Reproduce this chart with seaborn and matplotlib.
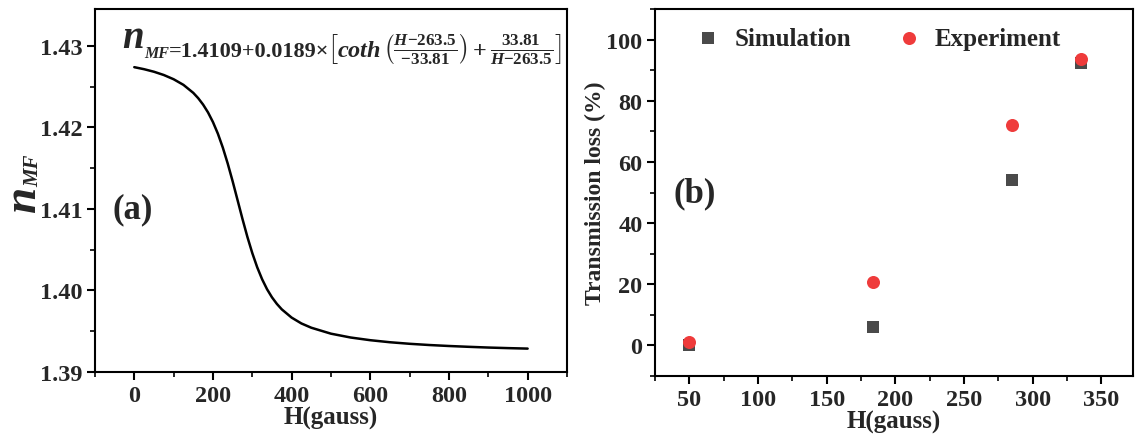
import numpy as np
import pandas as pd
import matplotlib
matplotlib.use("Agg")
import matplotlib.pyplot as plt
from matplotlib.ticker import MultipleLocator, FormatStrFormatter
import seaborn as sns

# ---- data (a): refractive index vs field ----
H_a = [0, 25, 50, 75, 100, 125, 150, 162.5, 175, 187.5, 200, 212.5, 225, 237.5,
       250, 263.5, 275, 287.5, 300, 312.5, 325, 337.5, 350, 362.5, 375, 400,
       425, 450, 500, 550, 600, 650, 700, 750, 800, 850, 900, 950, 1000]
n_MF = [1.42737, 1.42712, 1.42681, 1.42641, 1.42589, 1.42520, 1.42422, 1.42357,
        1.42278, 1.42182, 1.42064, 1.41922, 1.41752, 1.41556, 1.41339, 1.41090,
        1.40877, 1.40657, 1.40458, 1.40284, 1.40137, 1.40015, 1.39916, 1.39835,
        1.39768, 1.39667, 1.39595, 1.39543, 1.39470, 1.39423, 1.39390, 1.39365,
        1.39346, 1.39331, 1.39319, 1.39309, 1.39300, 1.39293, 1.39287]

# ---- data (b): transmission loss ----
H_b = [50, 184, 285, 335]
sim_loss = [0.0, 6.0, 54.0, 92.2]
exp_loss = [1.2, 20.6, 72.2, 93.5]
series_names = ["Simulation", "Experiment"]

sns.set_theme(style="ticks")
plt.rcParams["font.family"] = ["Liberation Serif", "DejaVu Serif"]
plt.rcParams["font.weight"] = "bold"
plt.rcParams["axes.labelweight"] = "bold"
plt.rcParams["mathtext.fontset"] = "custom"
plt.rcParams["mathtext.rm"] = "Liberation Serif:bold"
plt.rcParams["mathtext.bf"] = "Liberation Serif:bold"
plt.rcParams["mathtext.it"] = "Liberation Serif:italic:bold"
plt.rcParams["mathtext.default"] = "it"

W, Hh = 1144, 439
fig = plt.figure(figsize=(W / 100, Hh / 100), dpi=100)
ax1 = fig.add_axes([0.0830, 0.1503, 0.4126, 0.8269])
ax2 = fig.add_axes([0.5726, 0.1412, 0.4178, 0.8360])

TICK_FS = 17.5

# ---------------- panel (a) ----------------
df_a = pd.DataFrame({"H": H_a, "n": n_MF})
sns.lineplot(data=df_a, x="H", y="n", ax=ax1, color="black", linewidth=1.8)
ax1.set_xlim(-100, 1100)
ax1.set_ylim(1.39, 1.4345)
ax1.xaxis.set_major_locator(MultipleLocator(200))
ax1.xaxis.set_minor_locator(MultipleLocator(100))
ax1.yaxis.set_major_locator(MultipleLocator(0.01))
ax1.yaxis.set_minor_locator(MultipleLocator(0.005))
ax1.yaxis.set_major_formatter(FormatStrFormatter("%.2f"))
ax1.set_xlabel("H(gauss)", fontsize=18, fontweight="bold", labelpad=0)
ax1.set_ylabel("")
# y label n_MF (rotated), built from two pieces
fig.text(35 / W, 1 - 213 / Hh, "n", rotation=90, rotation_mode="anchor",
         ha="left", va="baseline", fontsize=34, fontstyle="italic",
         fontweight="bold")
fig.text(38 / W, 1 - 187 / Hh, "MF", rotation=90, rotation_mode="anchor",
         ha="left", va="baseline", fontsize=15, fontstyle="italic",
         fontweight="bold")

ax1.text(0.037, 0.449, "(a)", transform=ax1.transAxes, fontsize=25,
         fontweight="bold", ha="left", va="center")

# formula, built from chained pieces
t_n = ax1.text(0.057, 0.895, "n", transform=ax1.transAxes, fontsize=28,
               fontstyle="italic", fontweight="bold", ha="left", va="baseline")
t_sub = ax1.annotate("MF", xy=(1, 0), xycoords=t_n, xytext=(0.3, -0.5),
                     textcoords="offset points", fontsize=11.5, fontstyle="italic",
                     fontweight="bold", ha="left", va="baseline")
t_num = ax1.annotate("=1.4109+0.0189×", xy=(1, 0), xycoords=(t_sub, t_n),
                     xytext=(0.3, 0), textcoords="offset points", fontsize=16,
                     fontweight="bold", ha="left", va="baseline")
ax1.annotate(r"$\left[coth\,\left(\frac{H\mathrm{-263.5}}{\mathrm{-33.81}}\right)"
             r"+\frac{\mathrm{33.81}}{H\mathrm{-263.5}}\right]$",
             xy=(1, 0), xycoords=(t_num, t_n), xytext=(-2, 0),
             textcoords="offset points", fontsize=17.5, ha="left", va="baseline")

# ---------------- panel (b) ----------------
df_sim = pd.DataFrame({"H": H_b, "loss": sim_loss})
df_exp = pd.DataFrame({"H": H_b, "loss": exp_loss})
sns.scatterplot(data=df_sim, x="H", y="loss", marker="s", color="#4a4a4a",
                s=66, linewidth=0, ax=ax2, label=series_names[0])
sns.scatterplot(data=df_exp, x="H", y="loss", marker="o", color="#ef3b3b",
                s=88, linewidth=0, ax=ax2, label=series_names[1])
ax2.set_xlim(25, 373)
ax2.set_ylim(-10, 110)
ax2.xaxis.set_major_locator(MultipleLocator(50))
ax2.xaxis.set_minor_locator(MultipleLocator(25))
ax2.yaxis.set_major_locator(MultipleLocator(20))
ax2.yaxis.set_minor_locator(MultipleLocator(10))
ax2.set_xlabel("H(gauss)", fontsize=18, fontweight="bold", labelpad=0)
ax2.set_ylabel("Transmission loss (%)", fontsize=17, fontweight="bold")
ax2.yaxis.set_label_coords(-0.103, 0.50)
ax2.text(0.038, 0.50, "(b)", transform=ax2.transAxes, fontsize=25,
         fontweight="bold", ha="left", va="center")
ax2.legend(loc="upper left", bbox_to_anchor=(0.085, 0.952), ncol=2, frameon=False,
           prop={"family": "Liberation Serif", "weight": "bold", "size": 18},
           handlelength=1.0, handletextpad=0.55, columnspacing=1.8,
           markerscale=1.0, borderaxespad=0.0, borderpad=0.0)

for ax in (ax1, ax2):
    for sp in ax.spines.values():
        sp.set_linewidth(1.5)
        sp.set_color("black")
        sp.set_visible(True)
    ax.tick_params(which="major", direction="out", length=6, width=1.5,
                   labelsize=TICK_FS, top=False, right=False, pad=3, color="black")
    ax.tick_params(which="minor", direction="out", length=3.5, width=1.2,
                   top=False, right=False, color="black")
    for lab in ax.get_xticklabels() + ax.get_yticklabels():
        lab.set_fontweight("bold")
        lab.set_family("Liberation Serif")

fig.savefig("out.png", dpi=100)
